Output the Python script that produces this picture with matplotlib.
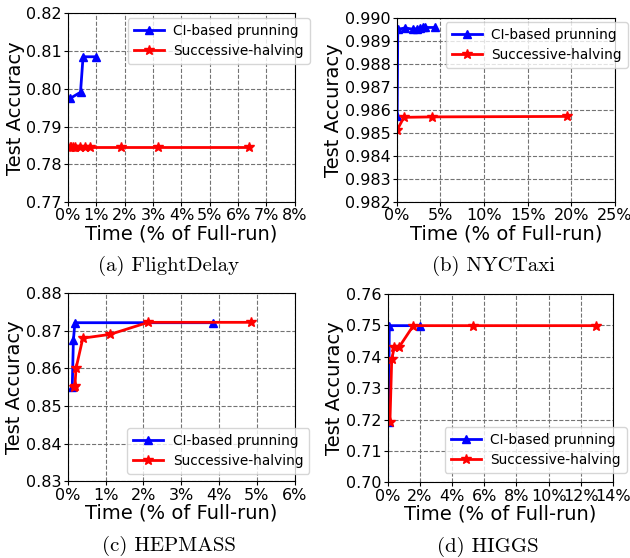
import matplotlib
matplotlib.use('Agg')
import matplotlib.pyplot as plt
from matplotlib.ticker import FuncFormatter

# (a) FlightDelay
fd_ci_x = [0.08, 0.44, 0.53, 0.98]
fd_ci_y = [0.7975, 0.7991, 0.8085, 0.8085]
fd_sh_x = [0.06, 0.12, 0.18, 0.24, 0.41, 0.59, 0.77, 1.88, 3.18, 6.39]
fd_sh_y = [0.7847] * 10

# (b) NYCTaxi
nyc_ci_x = [0.03, 0.1, 0.95, 1.9, 2.3, 2.67, 3.0, 3.2, 4.4]
nyc_ci_y = [0.98574, 0.98952, 0.98958, 0.98952, 0.98955, 0.98958, 0.98960, 0.98960, 0.98960]
nyc_sh_x = [0.03, 0.8, 4.0, 19.5]
nyc_sh_y = [0.98513, 0.98568, 0.98570, 0.98572]

# (c) HEPMASS
hep_ci_x = [0.12, 0.15, 0.19, 3.84]
hep_ci_y = [0.8551, 0.8675, 0.8721, 0.8721]
hep_sh_x = [0.16, 0.19, 0.22, 0.40, 1.12, 2.13, 4.85]
hep_sh_y = [0.8551, 0.8553, 0.8600, 0.8680, 0.8690, 0.8722, 0.8722]

# (d) HIGGS
hig_ci_x = [0.05, 0.1, 2.0]
hig_ci_y = [0.7193, 0.7499, 0.7499]
hig_sh_x = [0.14, 0.25, 0.41, 0.70, 1.59, 5.3, 12.95]
hig_sh_y = [0.7193, 0.7392, 0.7430, 0.7430, 0.7499, 0.7499, 0.7499]

panels = [
    dict(ci=(fd_ci_x, fd_ci_y), sh=(fd_sh_x, fd_sh_y), xlim=(0, 8), xstep=1,
         ylim=(0.77, 0.82), ystep=0.01, yfmt='{:.2f}',
         legend=('upper right', (1.066, 0.975)),
         caption='(a) FlightDelay', rect=[0.108, 0.638, 0.360, 0.338]),
    dict(ci=(nyc_ci_x, nyc_ci_y), sh=(nyc_sh_x, nyc_sh_y), xlim=(0, 25), xstep=5,
         ylim=(0.982, 0.990), ystep=0.001, yfmt='{:.3f}',
         legend=('upper right', (1.06, 0.98)),
         caption='(b) NYCTaxi', rect=[0.630, 0.6385, 0.346, 0.3287]),
    dict(ci=(hep_ci_x, hep_ci_y), sh=(hep_sh_x, hep_sh_y), xlim=(0, 6), xstep=1,
         ylim=(0.83, 0.88), ystep=0.01, yfmt='{:.2f}',
         legend=('lower right', (1.066, 0.039)),
         caption='(c) HEPMASS', rect=[0.1075, 0.1375, 0.360, 0.3375]),
    dict(ci=(hig_ci_x, hig_ci_y), sh=(hig_sh_x, hig_sh_y), xlim=(0, 14), xstep=2,
         ylim=(0.70, 0.76), ystep=0.01, yfmt='{:.2f}',
         legend=('lower right', (1.062, 0.049)),
         caption='(d) HIGGS', rect=[0.6154, 0.1357, 0.3576, 0.3375]),
]

fig = plt.figure(figsize=(6.3, 5.58), dpi=100)

for p in panels:
    ax = fig.add_axes(p['rect'])
    ax.plot(*p['ci'], color='blue', marker='^', lw=2, ms=6, label='CI-based prunning')
    ax.plot(*p['sh'], color='red', marker='*', lw=2, ms=7, label='Successive-halving')
    ax.set_xlim(*p['xlim'])
    ax.set_ylim(*p['ylim'])
    n = int(round((p['xlim'][1] - p['xlim'][0]) / p['xstep']))
    ax.set_xticks([p['xlim'][0] + i * p['xstep'] for i in range(n + 1)])
    m = int(round((p['ylim'][1] - p['ylim'][0]) / p['ystep']))
    ax.set_yticks([p['ylim'][0] + i * p['ystep'] for i in range(m + 1)])
    ax.xaxis.set_major_formatter(FuncFormatter(lambda v, pos: f'{v:g}%'))
    fmt = p['yfmt']
    ax.yaxis.set_major_formatter(FuncFormatter(lambda v, pos, fmt=fmt: fmt.format(v)))
    ax.tick_params(labelsize=11.5, length=3, pad=1.5)
    ax.grid(True, ls='--', color='0.45', lw=0.8)
    ax.set_xlabel('Time (% of Full-run)', fontsize=14, labelpad=1)
    ax.set_ylabel('Test Accuracy', fontsize=14, labelpad=1)
    loc, anchor = p['legend']
    ax.legend(loc=loc, bbox_to_anchor=anchor, fontsize=9.8, handlelength=2.2,
              handletextpad=0.7, borderpad=0.45, borderaxespad=0, labelspacing=0.42)
    r = p['rect']
    fig.text(r[0] + r[2] / 2 - 0.02, r[1] - 0.115, p['caption'],
             family='cmr10', fontsize=15, ha='center', va='center')

fig.savefig('out.png', dpi=100)
